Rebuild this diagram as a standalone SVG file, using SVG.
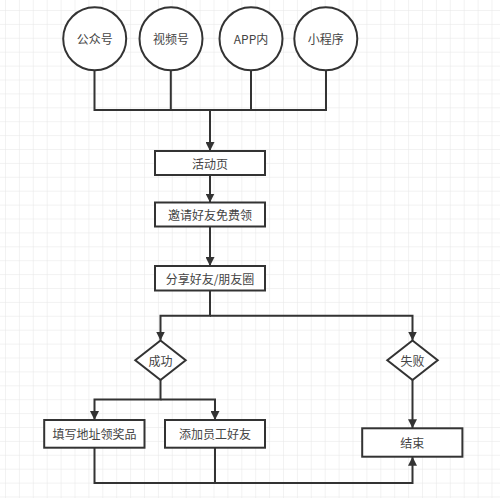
<svg xmlns="http://www.w3.org/2000/svg" width="500" height="498" viewBox="0 0 500 498">
<defs>
<pattern id="grid" x="5" y="10" width="13.9" height="13.9" patternUnits="userSpaceOnUse">
<path d="M0 0H13.9M0 0V13.9" fill="none" stroke="#e6e6e6" stroke-width="1"/>
</pattern>
<marker id="arr" viewBox="0 0 10 10" refX="10" refY="5" markerWidth="4.5" markerHeight="4.5" markerUnits="strokeWidth" orient="auto">
<path d="M0 0L10 5L0 10Z" fill="#333"/>
</marker>
<style>
.n{fill:#fff;stroke:#333;stroke-width:2}
.t{font-family:"Noto Sans CJK SC","Liberation Sans",sans-serif;font-size:12px;fill:#444;text-anchor:middle;dominant-baseline:central}
.c{fill:none;stroke:#333;stroke-width:2}
</style>
</defs>
<rect width="500" height="498" fill="#fff"/>
<rect width="500" height="498" fill="url(#grid)"/>
<g id="connectors">
<path class="c" d="M94.5 70.5V110H326V70.5M170.8 70.5V110M251 70.5V110"/>
<path class="c" marker-end="url(#arr)" d="M210 110V151"/>
<path class="c" marker-end="url(#arr)" d="M210 175V202.5"/>
<path class="c" marker-end="url(#arr)" d="M210 226.5V266"/>
<path class="c" marker-end="url(#arr)" d="M210 290.5V315.7H160.5V340.5"/>
<path class="c" marker-end="url(#arr)" d="M210 315.7H412.5V340.5"/>
<path class="c" marker-end="url(#arr)" d="M160.5 380V399.5H94.5V420"/>
<path class="c" marker-end="url(#arr)" d="M160.5 399.5H215V420"/>
<path class="c" marker-end="url(#arr)" d="M412.5 380V428.3"/>
<path class="c" marker-end="url(#arr)" d="M94.5 447.7V483H412.5V456.7"/>
<path class="c" d="M215 447.7V483"/>
</g>
<g id="n-gzh"><circle class="n" cx="94.7" cy="38.7" r="31.5"/><text class="t" x="94.7" y="38.7">公众号</text></g>
<g id="n-sph"><circle class="n" cx="171" cy="38.7" r="31.5"/><text class="t" x="171" y="38.7">视频号</text></g>
<g id="n-app"><circle class="n" cx="251" cy="38.7" r="31.5"/><text class="t" x="251" y="38.7">APP内</text></g>
<g id="n-xcx"><circle class="n" cx="325.8" cy="38.7" r="31.5"/><text class="t" x="325.8" y="38.7">小程序</text></g>
<g id="n-hdy"><rect class="n" x="155" y="151" width="110" height="24"/><text class="t" x="210" y="163">活动页</text></g>
<g id="n-yq"><rect class="n" x="155" y="202.5" width="110" height="24"/><text class="t" x="210" y="214.5">邀请好友免费领</text></g>
<g id="n-fx"><rect class="n" x="155" y="266" width="110" height="24.5"/><text class="t" x="210" y="278.2">分享好友/朋友圈</text></g>
<g id="n-cg"><path class="n" d="M160.5 340.5L185.7 360.2L160.5 380L135.3 360.2Z"/><text class="t" x="160.5" y="360.2">成功</text></g>
<g id="n-sb"><path class="n" d="M412.5 340.5L437.7 360.2L412.5 380L387.3 360.2Z"/><text class="t" x="412.5" y="360.2">失败</text></g>
<g id="n-tx"><rect class="n" x="44.2" y="420" width="100.3" height="27.7"/><text class="t" x="94.4" y="433.8">填写地址领奖品</text></g>
<g id="n-tj"><rect class="n" x="165" y="420" width="100" height="27.7"/><text class="t" x="215" y="433.8">添加员工好友</text></g>
<g id="n-js"><rect class="n" x="362.2" y="428.3" width="100.2" height="28.4"/><text class="t" x="412.3" y="442.5">结束</text></g>
</svg>
